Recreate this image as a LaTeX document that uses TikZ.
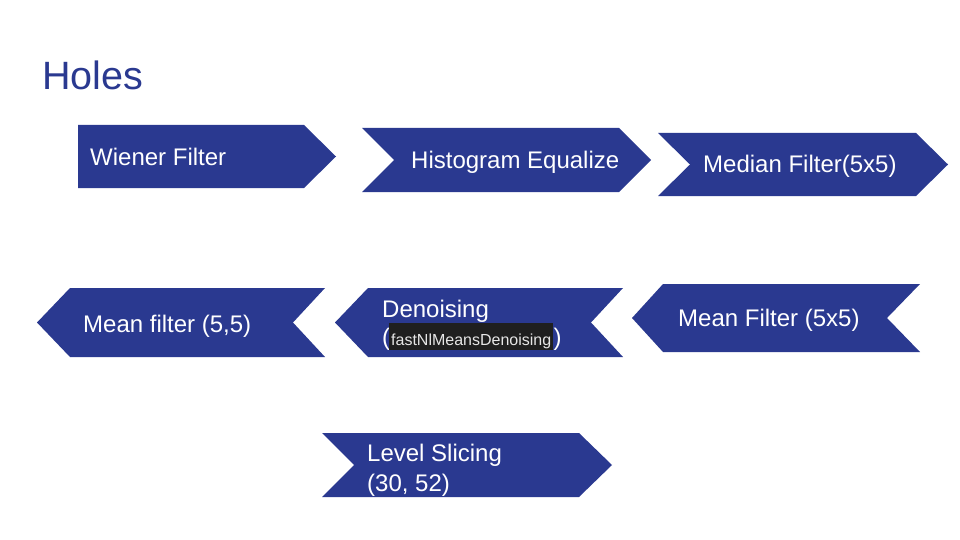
\documentclass[tikz,border=0pt]{standalone}
\usepackage{fontspec}
\setmainfont{Liberation Sans}
\definecolor{holeblue}{HTML}{2A3990}
\definecolor{codebg}{HTML}{1F1F1F}
\definecolor{codefg}{HTML}{E6E6E6}
\tikzset{
    stepshape/.style={fill=holeblue},
    steplabel/.style={text=white, inner sep=0pt, anchor=base west, font=\fontsize{24}{28}\selectfont},
    codelabel/.style={text=codefg, fill=codebg, inner xsep=2pt, inner ysep=0pt, anchor=base west,
        text height=22pt, text depth=5pt, font=\fontsize{16}{19}\selectfont}
}

\begin{document}
\begin{tikzpicture}[x=1pt, y=-1pt]
        \useasboundingbox (0,0) rectangle (960,540);

        % title
        \node[text=holeblue, inner sep=0pt, anchor=base west, font=\fontsize{39.5}{46}\selectfont] (title) at (42,90) {Holes};

        % first row, pointing right
        \fill[stepshape] (78,125) -- (304,125) -- (336,156.5) -- (304,188) -- (78,188) -- cycle;
        \node[steplabel] (wiener) at (90,165) {Wiener Filter};

        \fill[stepshape] (362,128) -- (619,128) -- (651,160) -- (619,192) -- (362,192) -- (394,160) -- cycle;
        \node[steplabel] (histeq) at (411,169) {Histogram Equalize};

        \fill[stepshape] (658,133) -- (916,133) -- (948,164.5) -- (916,196) -- (658,196) -- (690,164.5) -- cycle;
        \node[steplabel] (median) at (703,173) {Median Filter(5x5)};

        % second row, pointing left
        \fill[stepshape] (920,284) -- (663,284) -- (632,318) -- (663,352) -- (920,352) -- (887,318) -- cycle;
        \node[steplabel] (meanfive) at (678,326) {Mean Filter (5x5)};

        \fill[stepshape] (623,288) -- (368,288) -- (335,322.5) -- (368,357) -- (623,357) -- (591,322.5) -- cycle;
        \node[steplabel] (denoise) at (382,317) {Denoising};
        \node[steplabel] (lparen) at (382,345) {(};
        \node[codelabel] (fastnl) at (389,345) {fastNlMeansDenoising};
        \node[steplabel] (rparen) at (fastnl.base east) {)};

        \fill[stepshape] (325,288) -- (70,288) -- (37,322.5) -- (70,357) -- (325,357) -- (293,322.5) -- cycle;
        \node[steplabel] (meanfilt) at (83,332) {Mean filter (5,5)};

        % last step
        \fill[stepshape] (322,433) -- (579,433) -- (612,465) -- (579,497) -- (322,497) -- (354,465) -- cycle;
        \node[steplabel] (slicing) at (367,461) {Level Slicing};
        \node[steplabel] (slicingval) at (367,491) {(30, 52)};
\end{tikzpicture}
\end{document}
